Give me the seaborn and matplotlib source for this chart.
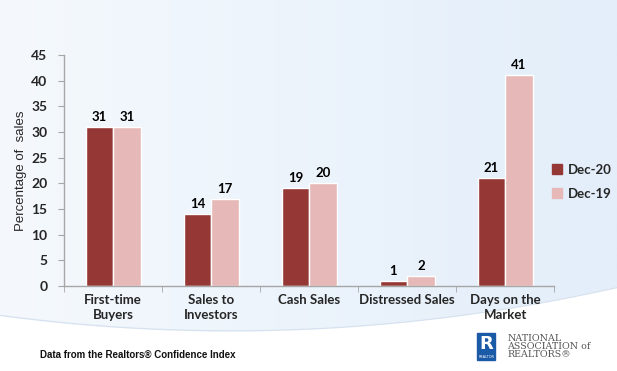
import numpy as np
import pandas as pd
import matplotlib.pyplot as plt
import seaborn as sns
from matplotlib.patches import Rectangle

# --- Data ---
categories = ['First-time\nBuyers', 'Sales to\nInvestors', 'Cash Sales', 'Distressed Sales', 'Days on the\nMarket']
dec20 = [31, 14, 19, 1, 21]
dec19 = [31, 17, 20, 2, 41]
periods = ['Dec-20', 'Dec-19']
colors = ['#953735', '#E6B9B8']

df = pd.DataFrame({
    'category': categories * 2,
    'value': dec20 + dec19,
    'period': [periods[0]] * 5 + [periods[1]] * 5,
})

# --- Plot ---
sns.set_style('white')
plt.rcParams['font.family'] = ['Lato', 'DejaVu Sans']

fig = plt.figure(figsize=(6.17, 3.71), dpi=100)

# background: light blue gradient with white swoosh at the bottom
bg = fig.add_axes([0, 0, 1, 1], zorder=-10)
grad = np.linspace(0, 1, 256).reshape(1, -1)
bg.imshow(grad, extent=[0, 1, 0, 1], aspect='auto',
          cmap=sns.blend_palette(['#f5f9fd', '#e3eefa'], as_cmap=True))
xs = np.linspace(0, 1, 200)
coef = np.polyfit([0, 0.45, 1], [0.15, 0.11, 0.225], 2)
curve = np.polyval(coef, xs)
bg.fill_between(xs, 0, curve, color='white', zorder=2)
bg.plot(xs, curve, color='#d6e2f0', lw=1, zorder=3)
bg.set_xlim(0, 1)
bg.set_ylim(0, 1)
bg.axis('off')

ax = fig.add_axes([0.104, 0.229, 0.794, 0.623])
ax.patch.set_alpha(0)
sns.barplot(data=df, x='category', y='value', hue='period', palette=colors,
            width=0.56, gap=0, saturation=1, ax=ax, legend=False)

for cont in ax.containers:
    ax.bar_label(cont, fmt='%d', padding=3, fontsize=9.5, fontweight='bold', color='black')

ax.set_ylim(0, 45)
ax.set_yticks(range(0, 46, 5))
ax.set_xlim(-0.5, 4.5)
ax.set_xlabel('')
ax.set_ylabel('Percentage of  sales', fontsize=9.5, family=['Liberation Sans Narrow', 'Liberation Sans'],
              labelpad=3)
ax.tick_params(axis='y', labelsize=10, length=4, color='#a6a6a6', left=True, pad=8)
for t in ax.get_yticklabels():
    t.set_fontweight('bold')
ax.set_xticks(range(5))
ax.set_xticklabels(categories, fontsize=9.5, fontweight='bold', linespacing=1.25)
ax.tick_params(axis='x', length=0, pad=6)
# category boundary ticks
ax.set_xticks(np.arange(-0.5, 5, 1), minor=True)
ax.tick_params(axis='x', which='minor', length=4, color='#a6a6a6', bottom=True)

for s in ['top', 'right']:
    ax.spines[s].set_visible(False)
for s in ['left', 'bottom']:
    ax.spines[s].set_color('#a6a6a6')
    ax.spines[s].set_linewidth(1)

# legend
handles = [Rectangle((0, 0), 1, 1, color=c) for c in colors]
fig.legend(handles, periods, loc='center left', bbox_to_anchor=(0.875, 0.51),
           frameon=False, prop={'weight': 'bold', 'size': 9.5},
           handlelength=0.8, handleheight=0.8, handletextpad=0.4, labelspacing=0.9)

# footer
fig.text(0.065, 0.043, 'Data from the Realtors® Confidence Index', fontsize=7,
         fontweight='bold', family=['Liberation Sans'], color='#111111', va='center')

# logo
fig.patches.append(Rectangle((0.773, 0.03), 0.03, 0.072, transform=fig.transFigure,
                             color='#1a5aa6', figure=fig))
fig.text(0.788, 0.072, 'R', color='white', fontsize=13, fontweight='bold',
         ha='center', va='center', family=['DejaVu Sans'])
fig.text(0.788, 0.038, 'REALTOR', color='white', fontsize=2.5,
         ha='center', va='center', family=['DejaVu Sans'])
fig.text(0.822, 0.066, 'NATIONAL\nASSOCIATION of\nREALTORS®', fontsize=6.8, color='#555555',
         family=['DejaVu Serif'], va='center', linespacing=0.92)

fig.savefig('out.png', dpi=100)
